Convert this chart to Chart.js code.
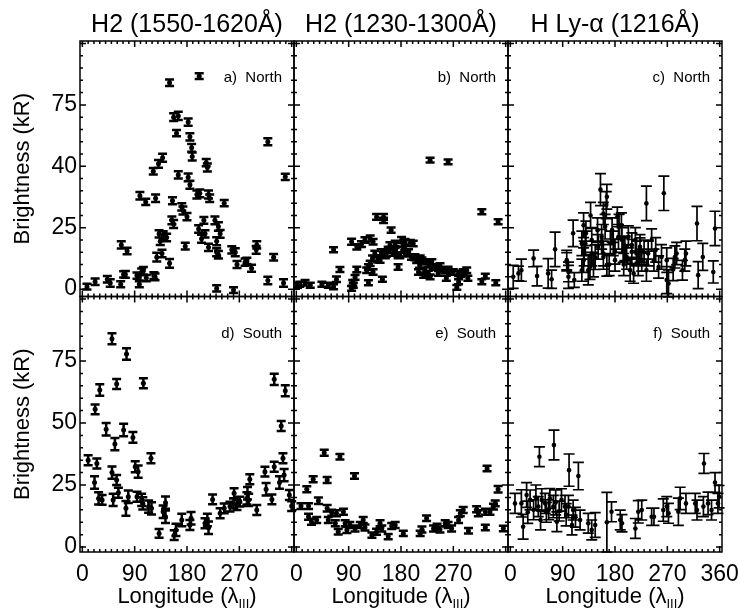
<!DOCTYPE html>
<html>
<head>
<meta charset="utf-8">
<script src="https://cdn.jsdelivr.net/npm/chart.js@4.4.1/dist/chart.umd.min.js"></script>
<style>
  body { margin: 0; background: #fff; }
  canvas { display: block; }
</style>
</head>
<body>
<canvas id="chart" width="738" height="612"></canvas>
<script>
// [longitude, brightness kR, error]
const northH2Long = [
  [8,1,1.2],[22,3,1.3],[43,4,1.3],[48,2.5,1.5],[66,2,1.2],[74,6,1.4],[67,18,1.5],[77,15.5,1.3],
  [98,2,1.2],[98,5,1.5],[105,7.5,1.5],[110,4.5,1.3],[123,5.5,1.4],[99,38,1.5],[109,35.5,1.3],
  [126,37,1.5],[122,48,1.3],[131,51,1.6],[138,53.5,1.6],[128,13,1.8],[137,14.5,1.5],[132,22.5,1.5],
  [139,22,1.6],[134,19.5,1.5],[145,21,1.5],[150,10.5,1.8],[157,26.5,1.6],[154,28,1.6],[155,36,1.4],
  [150,84,1.3],[157,70,1.6],[165,70.5,1.7],[182,68,1.5],[162,63.5,1.3],[185,62,1.5],[188,57.5,1.6],
  [189,54,1.6],[165,46.5,1.5],[182,45.5,1.6],[185,42.5,1.6],[171,33.5,1.5],[173,32,1.6],[180,29.5,1.5],
  [177,17.5,1.4],[197,38.5,1.6],[202,39,1.6],[217,38.5,1.6],[219,37,1.5],[213,51.5,1.5],[215,49.5,1.6],
  [209,28,1.4],[200,24.5,1.5],[211,22.5,1.5],[205,20.5,1.6],[228,28,1.6],[234,25.5,1.7],[237,22.5,1.6],
  [231,19.5,1.6],[217,17,1.5],[231,15,1.6],[234,14,1.5],[244,35,1.3],[231,0.3,1.3],[260,-0.4,1.2],
  [257,16,1.5],[263,15,1.6],[266,10,1.4],[280,11,1.5],[291,8.5,1.4],[299,16,1.6],[283,11.5,1.3],
  [300,18,1.5],[319,60,1.4],[319,3.5,1.5],[329,13,1.3],[346,2.5,1.5],[349,45.7,1.3],[201,86.7,1.2],
  [102,7,1.4],[94,5.5,1.3],[71,6,1.3],[125,5,1.4]
];
const northH2Short = [
  [2,1.6,1],[6,2,1],[15,2.6,1.1],[24,1.6,1],[44,2,1],[55,1.6,1],[64,1,1],[69,4,1.1],[64,16,1],
  [75,8,1],[95,0.3,1],[97,2.6,1.1],[101,4.8,1],[104,8,1.1],[95,19.3,1.2],[104,17.2,1.1],[112,18.3,1.2],
  [118,20,1.1],[127,20.6,1.2],[132,19.3,1.1],[124,2.6,1],[121,7.7,1.1],[127,10.5,1.1],[131,12.5,1.2],
  [135,14.5,1.1],[138,29.4,1.2],[150,29.4,1.2],[150,28,1.1],[148,4,1],[144,11.8,1.1],[153,13.8,1.2],
  [163,24,1.1],[161,17.9,1.2],[170,18.6,1.1],[175,13.8,1.2],[175,9,1.1],[181,20,1.2],[187,19.3,1.1],
  [196,18.8,1.2],[201,18.6,1.1],[187,14.5,1.2],[198,13.1,1.1],[207,11.8,1.2],[212,9.8,1.1],[221,7.7,1.1],
  [227,6.4,1.1],[230,52.5,1],[233,11.1,1.1],[236,9,1.1],[247,9.4,1.1],[244,6.4,1],[261,51.8,1],
  [261,8,1.1],[258,4.4,1],[276,0.7,1],[279,6.4,1.1],[293,7.7,1.1],[295,4.4,1],[319,31.5,1],
  [319,3,1],[325,5.3,1],[343,2.6,1],[347,27.4,1],[155,14.5,1.2],[167,14.8,1.2],[178,13.8,1.2],
  [190,14.5,1.2],[216,11.8,1.1],[224,11.1,1.1],[256,7.7,1.1],[265,7,1.1],[287,7,1.1],[124,9,1.1],
  [132,7,1.1],[98,1.6,1],[210,7,1.1],[219,5.7,1.1],[230,5,1],[279,3,1],
  [140,12,1.2],[146,15,1.2],[158,16,1.2],[170,15.5,1.2],[183,16,1.2],[193,15,1.2],[204,13,1.2],
  [213,12.5,1.2],[228,10,1.1],[240,9,1.1],[250,8,1.1],[270,7,1.1],[283,6,1.1]
];
const northLyA = [
  [5,5,4.7],[14,6.4,3],[19,7.7,4.5],[40,12.5,3.4],[46,5.3,4],[65,6.4,6],[71,4,3.7],[77,16.2,7],
  [97,11.1,3.7],[100,5,4.7],[108,22.7,5.4],[110,3.7,3],[97,11.8,4],[100,7,4],[123,18.6,5],[127,14.5,5],
  [130,22.7,5],[134,7.7,6],[138,30,5.3],[140,20,5],[146,13,5],[151,17.2,5],[155,40.5,6.5],[160,30.8,4.5],
  [165,34.2,5.5],[166,37.6,5],[157,21.3,5],[160,13.1,5],[172,18.6,5],[180,11.8,4.5],[184,29.4,4],
  [187,25.4,5],[192,20,5],[197,16.6,5],[200,13.1,5],[203,21.3,4.5],[209,17.9,5],[212,6.4,4],
  [217,14.5,5],[223,17.2,5],[226,11.8,4.5],[234,34.9,7],[234,7.7,4.5],[237,14.5,5],[243,20,4.5],
  [247,11.8,4.5],[264,39,7],[260,13.1,5],[269,3.7,5.5],[283,13.1,4.5],[280,8,4.5],[296,7.7,4],
  [302,14.5,5],[300,11.8,4.5],[321,26.7,7],[323,5.7,5.5],[331,13.1,5.5],[352,24.7,7],[349,7,4.5],
  [126,26,5],[129,18.6,5],[123,7.7,4.5],[126,11.8,5],[137,9,5],[140,14.5,5],[163,25.4,5],[157,19.3,5],
  [160,14.5,5],[166,9.8,4.5],[177,18.6,5],[180,15.2,5],[186,21.3,5],[191,26,5],[194,15.9,5],
  [206,7.7,4.5],[209,15.2,5],[223,15.9,5],[220,10.5,5],[269,11.8,5],[272,2.3,5.5],[286,14.5,4.5],
  [143,10,5],[150,24,5],[170,10,4.5],[175,24,5],[195,10,4.5],[215,20,5],[230,15,5],[250,16,5],[255,9,4.5]
];
const southH2Long = [
  [10,35,2],[25,33.7,2],[21,26,2.5],[28,19.6,2.5],[22,55.5,2],[30,63.3,2.3],[41,47.5,2.5],[34,19,2],
  [51,84,2.2],[56,41.5,2.5],[51,30,2.5],[53,19,2.5],[59,65.7,2],[59,27,2],[62,21.9,2],[71,47.2,2.5],
  [76,77.8,2.3],[79,20.3,2.5],[75,15.6,3],[87,44.2,2.2],[91,32.4,2.2],[96,30.4,2.5],[94,20.3,2],
  [102,19,2.5],[104,17.6,2.5],[105,66,2],[118,35.8,2],[114,16.3,2.5],[119,15.6,2.5],[132,5.5,1.8],
  [139,14.2,2.5],[143,12.2,2.5],[143,17.9,2.5],[158,4.8,2],[161,6.9,2.5],[171,10.9,2.5],[185,8.9,2],
  [187,11.6,2.5],[211,9.6,2],[215,10.9,2.5],[217,7.8,2.5],[224,19.2,2],[237,13.6,2],[244,15.6,2],
  [254,16.3,2],[260,17.6,2],[261,21.7,2],[266,16.9,2],[271,18.3,2],[283,19.6,2.5],[288,27.3,2],
  [284,21.7,2.5],[286,19,2.5],[300,14.9,2],[314,30.4,2],[316,23.3,2.5],[326,19.2,2],[330,67.6,2.3],
  [330,32.4,2],[339,26,2.5],[342,48.8,2],[345,35.8,2],[347,29,2.5],[349,63,2.2],[356,21,2],[360,16.5,2]
];
const southH2Short = [
  [8,16.5,1.2],[21,16.5,1.2],[18,23.3,1.2],[29,27.3,1.2],[38,18.7,1.3],[21,12.2,1.2],[26,10.2,1.2],
  [35,10.9,1.2],[48,38,1.2],[53,27,1.2],[53,15.6,1.3],[55,10.9,1.2],[61,13.8,1.2],[67,9.6,1.2],
  [75,36.4,1.1],[69,13.6,1.2],[72,6.2,1.1],[81,14.2,1.2],[84,9.6,1.2],[87,6.9,1.2],[100,28.6,1.1],
  [92,8.9,1.2],[101,7.5,1.2],[110,8.9,1.2],[115,10.9,1.2],[118,7.9,1.2],[130,4.8,1.1],[138,6.2,1.2],
  [144,9.6,1.2],[147,7.5,1.2],[158,4.2,1.1],[164,8.5,1.2],[170,8.9,1.2],[184,5.5,1.1],[213,5.5,1.1],
  [216,7.1,1.2],[224,11.6,1.1],[236,7.5,1.2],[242,8.2,1.2],[247,7.1,1.2],[256,9.6,1.2],[261,8.9,1.2],
  [267,7.5,1.2],[279,10.9,1.2],[282,13.6,1.2],[287,14.9,1.2],[296,6.6,1.1],[310,15.2,1.2],[313,13.6,1.2],
  [325,14.2,1.2],[328,31.7,1.1],[325,7.9,1.1],[333,14.2,1.2],[339,16.3,1.2],[342,17.6,1.2],[347,23.3,1.3],
  [356,7.5,1.1]
];
const southLyA = [
  [8,17.6,4],[19,17.6,5.5],[22,8.2,5],[28,21,5],[34,19,4],[40,15,4],[50,36.4,4],[52,10.9,4],[48,16.3,4],
  [54,19,4.5],[60,17.6,4],[62,14,4],[68,19.6,4],[74,16.3,4.5],[75,41.1,6],[80,10.2,4],[84,14.5,4],
  [88,19,4.5],[94,16.3,4.5],[101,31,6.5],[106,8.9,4],[100,16.3,4.5],[108,14.9,4],[117,28.6,5.5],
  [120,10.9,4],[134,9.6,4],[140,6.9,4],[146,8.9,5],[166,10,12],[174,14.2,4],[189,10.9,4],[192,9.6,3.5],
  [215,7.5,4],[220,14.2,4.5],[226,14.9,4],[243,12.2,3.5],[247,12.2,3.5],[263,14.9,4.5],[269,16.3,4],
  [272,13.6,4],[289,14.2,5.5],[292,19.6,4.5],[302,17.6,4],[318,17.6,4],[321,14.9,4],[333,33.7,4],
  [332,16.3,4],[340,17.6,4.5],[346,14.9,4],[352,26,4],[357,17.6,4],[359,20.3,4.5],
  [30,14,4.5],[44,20,5],[66,15,4],[78,18,5],[96,13,4.5],[112,12,4]
];

const columnTitles = ['H2 (1550-1620Å)', 'H2 (1230-1300Å)', 'H Ly-α (1216Å)'];
const panelTags = [['a)  North', 'b)  North', 'c)  North'], ['d)  South', 'e)  South', 'f)  South']];
const lonTicks = [0, 90, 180, 270];
const lonTicksLast = [0, 90, 180, 270, 360];
const briTicks = [0, 25, 50, 75];
const briLabelsTop = ['0', '25', '40', '75'];
const briLabelsBottom = ['0', '25', '50', '75'];

const FONT = "'Liberation Sans', Arial, Helvetica, sans-serif";
Chart.defaults.font.family = FONT;
Chart.defaults.color = '#000';

const xScale = (tickList) => ({
  type: 'linear', position: 'bottom', stack: 'cols', stackWeight: 1,
  min: -4, max: 364,
  grid: { display: false, drawTicks: false }, border: { display: false },
  afterBuildTicks: s => { s.ticks = tickList.map(v => ({ value: v })); },
  ticks: { autoSkip: false, maxRotation: 0, padding: 9, font: { size: 23 }, callback: v => String(v) },
  afterFit: s => { s.height = 60; s.paddingLeft = 0; s.paddingRight = 0; }
});

const yScale = (min, labels) => ({
  type: 'linear', position: 'left', stack: 'rows', stackWeight: 1,
  min: min, max: 101,
  grid: { display: false, drawTicks: false }, border: { display: false },
  afterBuildTicks: s => { s.ticks = briTicks.map(v => ({ value: v })); },
  ticks: { autoSkip: false, padding: 3, font: { size: 23 }, callback: v => labels[briTicks.indexOf(v)] },
  title: { display: true, text: 'Brightness (kR)', font: { size: 22 }, padding: { top: 10, bottom: 0 } },
  afterFit: s => { s.width = 80; s.paddingTop = 0; s.paddingBottom = 0; }
});

const panel = (rows, xid, yid, cap, lw, rad) => ({
  data: rows.map(r => ({ x: r[0], y: r[1] })),
  errors: rows.map(r => r[2]),
  xAxisID: xid, yAxisID: yid,
  pointRadius: rad, pointBackgroundColor: '#000', pointBorderWidth: 0,
  capHalf: cap, errWidth: lw
});

// error bars go through the dataset's own y scale
const errorBars = {
  id: 'errorBars',
  afterDatasetsDraw(chart) {
    const ctx = chart.ctx;
    chart.data.datasets.forEach((ds, i) => {
      const meta = chart.getDatasetMeta(i);
      const ys = chart.scales[ds.yAxisID];
      ctx.save();
      ctx.strokeStyle = '#000';
      ctx.lineWidth = ds.errWidth;
      ctx.beginPath();
      meta.data.forEach((pt, j) => {
        const v = ds.data[j].y, e = ds.errors[j];
        const y1 = ys.getPixelForValue(v + e), y2 = ys.getPixelForValue(v - e);
        ctx.moveTo(pt.x, y1); ctx.lineTo(pt.x, y2);
        ctx.moveTo(pt.x - ds.capHalf, y1); ctx.lineTo(pt.x + ds.capHalf, y1);
        ctx.moveTo(pt.x - ds.capHalf, y2); ctx.lineTo(pt.x + ds.capHalf, y2);
      });
      ctx.stroke();
      ctx.restore();
    });
  }
};

// frames, inward ticks and the texts
const panelFrames = {
  id: 'panelFrames',
  afterDraw(chart) {
    const ctx = chart.ctx;
    const xids = ['xa', 'xb', 'xc'], yids = ['yTop', 'yBot'];
    ctx.save();
    ctx.strokeStyle = '#000';
    ctx.lineWidth = 1.5;
    xids.forEach(xid => {
      const xs = chart.scales[xid];
      yids.forEach(yid => {
        const ys = chart.scales[yid];
        ctx.strokeRect(xs.left, ys.top, xs.right - xs.left, ys.bottom - ys.top);
        ctx.beginPath();
        for (let lon = 0; lon <= 360; lon += 10) {
          const px = xs.getPixelForValue(lon);
          const len = lon % 90 === 0 ? 6 : 3;
          ctx.moveTo(px, ys.bottom); ctx.lineTo(px, ys.bottom - len);
          ctx.moveTo(px, ys.top); ctx.lineTo(px, ys.top + len);
        }
        for (let b = 0; b <= 100; b += 5) {
          const py = ys.getPixelForValue(b);
          const len = b % 25 === 0 ? 6 : 3;
          ctx.moveTo(xs.left, py); ctx.lineTo(xs.left + len, py);
          ctx.moveTo(xs.right, py); ctx.lineTo(xs.right - len, py);
        }
        ctx.stroke();
      });
    });

    ctx.fillStyle = '#000';
    xids.forEach((xid, c) => {
      const xs = chart.scales[xid];
      const cx = (xs.left + xs.right) / 2;
      ctx.font = '25px ' + FONT;
      ctx.textAlign = 'center';
      ctx.textBaseline = 'alphabetic';
      ctx.fillText(columnTitles[c], cx, 32);

      // x title with subscript III
      const main = 'Longitude (λ', sub = 'III', tail = ')';
      ctx.font = '22px ' + FONT;
      const wMain = ctx.measureText(main).width, wTail = ctx.measureText(tail).width;
      ctx.font = '13px ' + FONT;
      const wSub = ctx.measureText(sub).width;
      let x0 = cx - (wMain + wSub + wTail) / 2;
      ctx.textAlign = 'left';
      ctx.font = '22px ' + FONT;
      ctx.fillText(main, x0, 603);
      ctx.font = '13px ' + FONT;
      ctx.fillText(sub, x0 + wMain, 608);
      ctx.font = '22px ' + FONT;
      ctx.fillText(tail, x0 + wMain + wSub, 603);

      yids.forEach((yid, r) => {
        const ys = chart.scales[yid];
        ctx.font = '15px ' + FONT;
        ctx.textAlign = 'right';
        ctx.textBaseline = 'middle';
        ctx.fillText(panelTags[r][c], xs.right - 12, ys.top + 37);
      });
    });
    ctx.restore();
  }
};

new Chart(document.getElementById('chart'), {
  type: 'scatter',
  data: {
    datasets: [
      panel(northH2Long, 'xa', 'yTop', 4.5, 2.5, 2.5),
      panel(northH2Short, 'xb', 'yTop', 4.5, 2.5, 2.5),
      panel(northLyA, 'xc', 'yTop', 5.5, 1.7, 2.3),
      panel(southH2Long, 'xa', 'yBot', 4.5, 2.5, 2.5),
      panel(southH2Short, 'xb', 'yBot', 4.5, 2.5, 2.5),
      panel(southLyA, 'xc', 'yBot', 5.5, 1.7, 2.3)
    ]
  },
  options: {
    responsive: false,
    animation: false,
    layout: { padding: { top: 41, right: 16, left: 0, bottom: 0 } },
    plugins: { legend: { display: false }, tooltip: { enabled: false } },
    scales: {
      xa: xScale(lonTicks),
      xb: xScale(lonTicks),
      xc: xScale(lonTicksLast),
      yBot: yScale(-2, briLabelsBottom),
      yTop: yScale(-3, briLabelsTop)
    }
  },
  plugins: [errorBars, panelFrames]
});
</script>
</body>
</html>
